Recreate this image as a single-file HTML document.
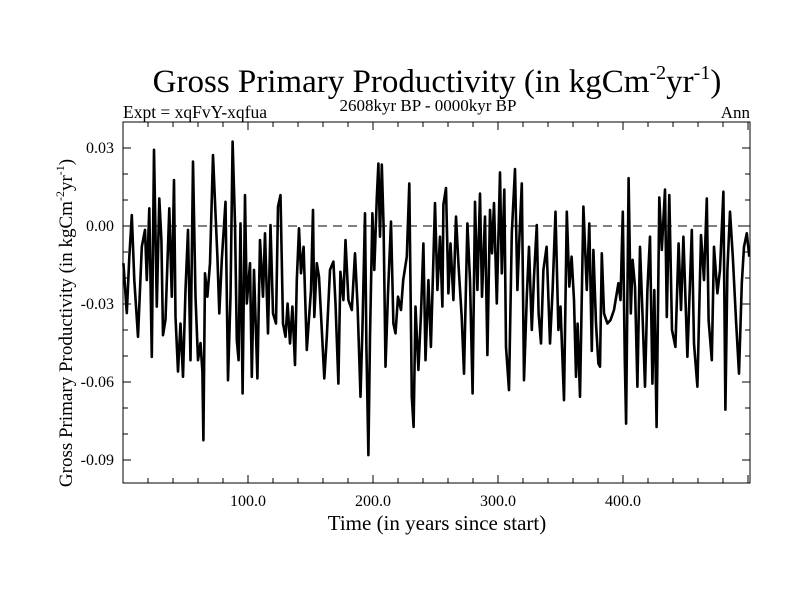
<!DOCTYPE html>
<html><head><meta charset="utf-8"><style>
body{margin:0;background:#fff}
svg{display:block;font-family:"Liberation Serif",serif}
</style></head><body>
<svg id="chart" width="800" height="600" xmlns="http://www.w3.org/2000/svg">
<text x="437" y="92" font-size="33" text-anchor="middle">Gross Primary Productivity (in kgCm<tspan font-size="20" dy="-13">-2</tspan><tspan dy="13">yr</tspan><tspan font-size="20" dy="-13">-1</tspan><tspan dy="13">)</tspan></text>
<text x="123" y="118" font-size="17.5">Expt = xqFvY-xqfua</text>
<text x="428" y="111" font-size="17" text-anchor="middle">2608kyr BP - 0000kyr BP</text>
<text x="750" y="118" font-size="17" text-anchor="end">Ann</text>
<text transform="translate(72,323) rotate(-90)" font-size="19" text-anchor="middle">Gross Primary Productivity (in kgCm<tspan font-size="12" dy="-8">-2</tspan><tspan dy="8">yr</tspan><tspan font-size="12" dy="-8">-1</tspan><tspan dy="8">)</tspan></text>
<text x="437" y="530" font-size="21" text-anchor="middle">Time (in years since start)</text>
<g id="grid"></g>
<g id="series"></g>
<rect x="123" y="122" width="627" height="361" fill="none" stroke="#000" stroke-width="1"/>
</svg>
<script>
const years=[0.3,3,5,7,9,12,15,17.6,19,21,23,24.8,27,29,30.7,32,34,37,39,40.8,42,44,46,48,50,52,54,56,58,60,62,63.5,64.3,65.6,67.5,69.6,72,74,75.5,77,79,82,84,86,87.7,89.6,91,92.5,94,95.7,97.6,99,101.6,103,104.8,107.5,109.6,112,113.6,116,118,120,122.4,124,126,128,130,131.7,133.6,135.5,137.6,139,140.8,142.4,144.5,147,148.3,150.4,152,153,155,156.8,159,161,163,165.6,168.3,170,172.3,173.9,176.3,178,180.3,183,185.6,187.7,190,191.5,193.6,194.7,196.3,197.6,199.5,201,203,204.3,205.6,207,208.5,210,212,214.4,216.3,218,220,222.4,224.2,227,229,231,232.5,234,236.3,238.4,240.3,242,244.3,246.3,249.6,251.5,253.6,255.5,256.3,258.4,260.3,262,264.3,266.4,268.5,271,272.8,275.5,277.6,279.7,281.6,283.5,285.6,287.2,289.6,291.5,293.6,295.2,296.8,299,301.6,303,305,306.4,308.8,311,313.6,315.5,317,319,320.8,323,324.8,327,328.8,331,332.5,334.4,336.3,338.9,341.6,343.7,346,348.3,350,352.8,355,357,358.9,360.8,362.4,363.7,365.6,368.3,371,373,375,376.3,378.4,380.3,381.6,383,384.8,387.5,390,392.8,396.3,398,399.8,401.4,402.5,404.5,406.2,407.7,409.6,411.5,413.6,415.7,417.6,419.5,421.6,423.5,425,426.9,429,431,433.6,435,437,439.2,441.9,444.5,446.4,448.3,451.5,455,456.8,459.5,462.4,464.8,467,468.5,471,472.8,475.5,477.6,480.3,481.9,483.5,485.6,487.8,490.4,492.8,495,496.8,499,501];
const values=[-14.3,-33.5,-12,4.2,-20.8,-42.6,-8,-1.5,-20.8,6.8,-50.3,29.3,-31,10.6,-5.4,-42,-36,6.8,-27.2,17.7,-34.9,-56,-37.5,-58,-24.6,-1.5,-51.6,24.8,-27.2,-51.6,-45,-56,-82.4,-18.2,-27.2,-14.3,27.3,4.8,-11.8,-33.6,-13,9.3,-59.3,-27.2,32.5,1,-43.9,-51.6,1,-64.4,11.9,-29.8,-14.3,-58,-16.9,-58.6,-5.4,-27.2,-2.8,-41.3,0.4,-33.6,-37.5,7.5,11.9,-37.5,-42.6,-29.8,-45.2,-31,-53.5,-20.8,-0.9,-18.2,-8,-47.7,-38.8,-24.6,6.2,-35,-14.3,-19.5,-40,-58.6,-42.6,-16.9,-13.7,-29.8,-60.6,-17.6,-28.5,-5.4,-28.5,-32.3,-10.5,-31,-65.7,-40,4.9,-46.5,-88.1,-42.6,4.9,-16.9,11,24,-4.1,23.6,-0.3,-54.1,-25.9,1.7,-37.5,-41.3,-27.2,-32.3,-20.8,-11.8,16.4,-65.7,-77.3,-31,-55.4,-33.6,-6.7,-51.6,-20.8,-46.5,8.8,-24.6,-4.1,-31,8.2,14.6,-25.9,-6.7,-28.5,3.6,-15.6,-35,-56.8,1,-20.8,-64.4,9.3,-24.6,12.5,-27.2,3.6,-49.6,6.2,-10.5,8.8,-29.8,20.6,-18.2,14,-46.5,-63.1,-2.8,21.9,-24.6,-5.4,16.4,-59.3,-27.2,-8,-40,-19.5,0.4,-33.6,-45.2,-16.9,-8,-45.2,-24.6,5.5,-40,-31,-67,5.5,-23.3,-11.8,-28.5,-58,-37.5,-65.7,7.5,-24.6,1,-48,-9.2,-37.5,-52.9,-54.1,-10.5,-33.6,-37.5,-36.2,-32.3,-22,-28.5,5.5,-51.6,-76,18.4,-33.6,-13,-23.3,-61.8,-8,-35,-61.8,-24.6,-4.1,-60.6,-24.6,-77.3,11,-9.2,14,-35,11.9,-40,-46.5,-6.7,-32.3,-4.1,-50.3,-1.5,-45.2,-61.8,-3.5,-20.8,10.6,-36.2,-51.6,-8,-25.9,-16.9,13.2,-70.6,-16.9,5.5,-11.8,-36.2,-56.8,-22,-8,-2.8,-11.8];
const yTickVals=[0.03,0,-0.03,-0.06,-0.09];
const yTickLabels=["0.03","0.00","-0.03","-0.06","-0.09"];
const xTickVals=[100,200,300,400];
const xTickLabels=["100.0","200.0","300.0","400.0"];
const NS="http://www.w3.org/2000/svg";
const X0=123,X1=750,Y0=122,Y1=483,XMIN=0,XMAX=501.6;
function sx(v){return X0+(v-XMIN)/(XMAX-XMIN)*(X1-X0);}
function sy(v){return 226-v/0.03*78;}
function mk(tag,attrs,parent){const e=document.createElementNS(NS,tag);for(const k in attrs)e.setAttribute(k,attrs[k]);parent.appendChild(e);return e;}
const grid=document.getElementById('grid');
const z=mk('line',{x1:X0,x2:X1,y1:sy(0),y2:sy(0),stroke:'#000','stroke-width':1,'stroke-dasharray':'9,6'},grid);


for(let v=-0.1;v<=0.035;v+=0.01){const y=sy(v);if(y<Y0||y>Y1)continue;const major=yTickVals.some(t=>Math.abs(t-v)<1e-6);const len=major?8:5;
 const a=mk('line',{x1:X0,x2:X0+len,y1:y,y2:y,stroke:'#000'},grid);
 
 
 const b=mk('line',{x1:X1,x2:X1-len,y1:y,y2:y,stroke:'#000'},grid);
 
 }
yTickVals.forEach((v,i)=>{const t=mk('text',{x:X0-9,y:sy(v)+5,'font-size':16,'text-anchor':'end'},grid);t.textContent=yTickLabels[i];
 
 });
for(let v=20;v<XMAX;v+=20){const x=sx(v);const major=v%100===0;const len=major?8:5;
 const a=mk('line',{x1:x,x2:x,y1:Y1,y2:Y1-len,stroke:'#000'},grid);
 
 
 const b=mk('line',{x1:x,x2:x,y1:Y0,y2:Y0+len,stroke:'#000'},grid);
 
 }
xTickVals.forEach((v,i)=>{const t=mk('text',{x:sx(v),y:506,'font-size':16,'text-anchor':'middle'},grid);t.textContent=xTickLabels[i];
 
 });
const pts=years.map((yr,i)=>sx(yr).toFixed(1)+','+sy(values[i]/1000).toFixed(1)).join(' ');
const line=mk('polyline',{points:pts,fill:'none',stroke:'#000','stroke-width':2.6,'stroke-linejoin':'round'},document.getElementById('series'));


</script>
</body></html>
